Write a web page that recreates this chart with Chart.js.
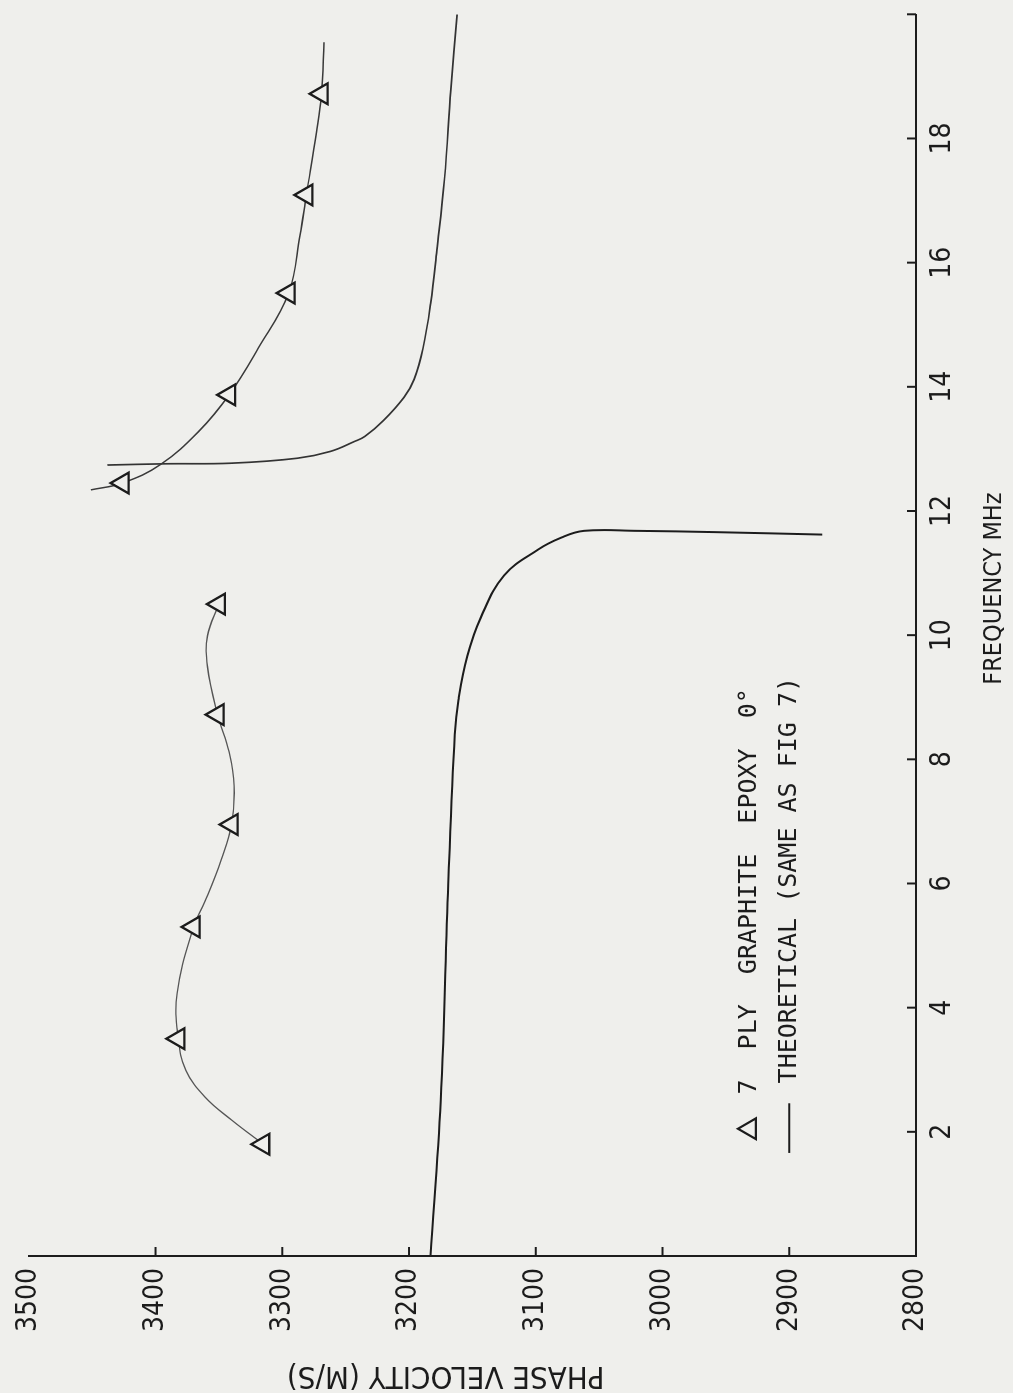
<!DOCTYPE html>
<html lang="en">
<head>
  <meta charset="UTF-8">
  <title>Phase velocity vs frequency</title>
  <script src="https://cdn.jsdelivr.net/npm/chart.js"></script>
  <style>
    html, body { margin: 0; padding: 0; background: #efefec; overflow: hidden; }
    /* the scanned figure is turned a quarter turn, so the page is drawn upright and rotated */
    #page { position: absolute; left: 0; top: 0; width: 1393px; height: 1013px;
            transform-origin: 0 0; transform: translateY(1393px) rotate(-90deg); }
  </style>
</head>
<body>
  <div id="page"><canvas id="chart" width="1393" height="1013"></canvas></div>

  <script>
    // axis ticks
    const freqTickLabels = [2, 4, 6, 8, 10, 12, 14, 16, 18];
    const freqTickMarks = [2, 4, 6, 8, 10, 12, 14, 16, 18, 20];
    const velTickMarks = [2900, 3000, 3100, 3200, 3300, 3400];

    // measured points, 7 ply graphite epoxy
    const expFreq = [1.8, 3.5, 5.3, 6.95, 8.72, 10.5, 12.45, 13.87, 15.51, 17.09, 18.72];
    const expVel  = [3315, 3382, 3370, 3340, 3351, 3350, 3426, 3342, 3295, 3281, 3269];

    // hand drawn curve through the measured points
    const fitLowFreq = [1.8, 2.19, 2.56, 2.99, 3.5, 4.23, 5.3, 5.71, 6.39, 6.95, 7.57, 8.12, 8.72, 9.49, 9.99, 10.5];
    const fitLowVel  = [3315, 3340, 3361, 3376, 3382, 3383, 3370, 3361, 3348, 3340, 3338, 3342, 3351, 3359, 3359, 3350];
    const fitHighFreq = [12.34, 12.45, 12.75, 13.28, 13.87, 14.62, 15.51, 16.44, 17.09, 18.1, 18.72, 19.55];
    const fitHighVel  = [3451, 3426, 3396, 3366, 3342, 3319, 3295, 3286, 3281, 3273, 3269, 3267];

    // theoretical dispersion curve, two branches
    const theoLowFreq = [0, 2.5, 6, 8.4, 8.96, 9.66, 10.3, 10.96, 11.38, 11.57, 11.68, 11.68, 11.66, 11.62];
    const theoLowVel  = [3183, 3175, 3169, 3164, 3161, 3154, 3143, 3125, 3098, 3080, 3062, 3020, 2960, 2874];
    const theoHighFreq = [12.74, 12.76, 12.77, 12.85, 12.96, 13.12, 13.2, 13.46, 13.83, 14.12, 14.62, 15.34, 16.2, 17.35, 18.79, 20];
    const theoHighVel  = [3438, 3392, 3340, 3288, 3262, 3243, 3235, 3220, 3204, 3196, 3189, 3183, 3178, 3172, 3167, 3162];

    const INK = '#1c1c1c';
    const PAPER = '#efefec';
    const NARROW = '"Liberation Sans Narrow", "DejaVu Sans Condensed", sans-serif';
    const MONO = '"DejaVu Sans Mono", "Liberation Mono", monospace';

    const pts = (xs, ys) => xs.map((x, i) => ({ x: x, y: ys[i] }));

    // inward tick marks, legend and axis titles
    const paperDecor = {
      id: 'paperDecor',
      afterDraw(chart) {
        const { ctx, chartArea: a, scales: { x, y } } = chart;
        ctx.save();
        ctx.strokeStyle = INK;
        ctx.fillStyle = INK;
        ctx.lineWidth = 2;

        freqTickMarks.forEach(f => {
          const px = x.getPixelForValue(f);
          ctx.beginPath(); ctx.moveTo(px, a.bottom); ctx.lineTo(px, a.bottom - 9); ctx.stroke();
        });
        velTickMarks.forEach(v => {
          const py = y.getPixelForValue(v);
          ctx.beginPath(); ctx.moveTo(a.left, py); ctx.lineTo(a.left + 9, py); ctx.stroke();
        });

        // legend
        const ds = chart.data.datasets;
        const row1 = y.getPixelForValue(2931), row2 = y.getPixelForValue(2900);
        ctx.font = '25px ' + MONO;
        ctx.textAlign = 'left';
        ctx.textBaseline = 'middle';
        const tx = x.getPixelForValue(2.05), r = 12;
        ctx.beginPath();
        ctx.moveTo(tx, row1 - r);
        ctx.lineTo(tx + r * 0.866, row1 + r * 0.5);
        ctx.lineTo(tx - r * 0.866, row1 + r * 0.5);
        ctx.closePath();
        ctx.lineWidth = 2.2;
        ctx.stroke();
        ctx.fillText(ds[0].label, x.getPixelForValue(2.6), row1);
        ctx.lineWidth = 2;
        ctx.beginPath();
        ctx.moveTo(x.getPixelForValue(1.66), row2);
        ctx.lineTo(x.getPixelForValue(2.46), row2);
        ctx.stroke();
        ctx.fillText(ds[3].label, x.getPixelForValue(2.78), row2);

        // axis titles
        ctx.textAlign = 'center';
        ctx.font = '25px ' + NARROW;
        ctx.fillText('FREQUENCY MHz', x.getPixelForValue(10.75), a.bottom + 78);
        ctx.save();
        ctx.translate(a.left - 119, y.getPixelForValue(3171));
        ctx.rotate(-Math.PI / 2);
        ctx.font = '31px ' + NARROW;
        ctx.fillText('PHASE VELOCITY (M/S)', 0, 0);
        ctx.restore();
        ctx.restore();
      }
    };

    new Chart(document.getElementById('chart'), {
      type: 'line',
      data: {
        datasets: [
          { label: '7  PLY  GRAPHITE  EPOXY  0°', data: pts(expFreq, expVel), showLine: false,
            pointStyle: 'triangle', pointRadius: 12, pointBorderWidth: 2.3,
            pointBorderColor: INK, pointBackgroundColor: PAPER },
          { label: 'fit low', data: pts(fitLowFreq, fitLowVel), borderColor: '#555',
            borderWidth: 1.3, pointRadius: 0, tension: 0.4 },
          { label: 'fit high', data: pts(fitHighFreq, fitHighVel), borderColor: '#3a3a3a',
            borderWidth: 1.5, pointRadius: 0, tension: 0.4 },
          { label: 'THEORETICAL (SAME AS FIG 7)', data: pts(theoLowFreq, theoLowVel), borderColor: INK,
            borderWidth: 2, pointRadius: 0, tension: 0.4 },
          { label: 'theory high', data: pts(theoHighFreq, theoHighVel), borderColor: '#333',
            borderWidth: 1.7, pointRadius: 0, tension: 0.4 }
        ]
      },
      options: {
        responsive: false,
        animation: false,
        layout: { padding: { top: 22, right: 13, left: 0, bottom: 0 } },
        plugins: { legend: { display: false }, tooltip: { enabled: false } },
        scales: {
          x: {
            type: 'linear', min: 0, max: 20,
            grid: { display: false, drawTicks: false },
            border: { display: true, color: INK, width: 2 },
            ticks: {
              stepSize: 2, autoSkip: false, maxRotation: 0, padding: 10, color: INK,
              font: { family: NARROW, size: 28 },
              callback: v => freqTickLabels.includes(v) ? String(v) : ''
            },
            afterFit: s => { s.height = 97; }
          },
          y: {
            type: 'linear', min: 2800, max: 3500,
            grid: { display: false, drawTicks: false },
            border: { display: true, color: INK, width: 2 },
            ticks: {
              stepSize: 100, padding: 12, color: INK, font: { family: NARROW, size: 28 },
              callback: v => String(v)
            },
            afterFit: s => { s.width = 137; }
          }
        }
      },
      plugins: [paperDecor]
    });
  </script>
</body>
</html>
